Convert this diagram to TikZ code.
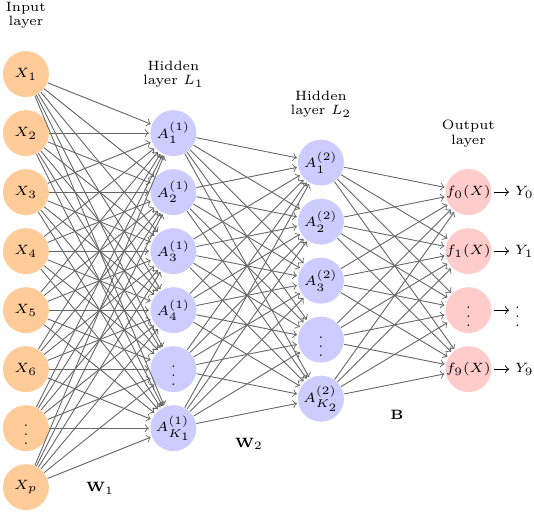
\documentclass[tikz,border=0pt]{standalone}
\usepackage{amsmath}
\usepackage{amssymb}
\usetikzlibrary{positioning}

\begin{document}
\begin{tikzpicture}[
    font=\fontsize{6}{6.3}\selectfont,
    node distance=26.2pt and 65.5pt, on grid,
    neuron/.style={circle, minimum size=20.4pt, inner sep=0pt},
    inputneuron/.style={neuron, fill=orange!40},
    hiddenneuron/.style={neuron, fill=blue!20},
    outputneuron/.style={neuron, fill=red!20, inner sep=-2pt},
    synapse/.style={->, black!60, shorten >=0.5pt},
    layerlabel/.style={align=center},
    outlabel/.style={anchor=west, inner sep=0.5pt}
  ]
  \useasboundingbox (0,0) rectangle (237.1pt,-226.9pt);
  % x1--x8 are the input units
  \node[inputneuron] (x1) at (11.5pt,-32.9pt) {$X_1$};
  \node[inputneuron, below=of x1] (x2) {$X_2$};
  \node[inputneuron, below=of x2] (x3) {$X_3$};
  \node[inputneuron, below=of x3] (x4) {$X_4$};
  \node[inputneuron, below=of x4] (x5) {$X_5$};
  \node[inputneuron, below=of x5] (x6) {$X_6$};
  \node[inputneuron, below=of x6] (x7) {$\vdots$};
  \node[inputneuron, below=of x7] (x8) {$X_p$};
  % a1--a6 are the units of the first hidden layer
  \node[hiddenneuron, right=of x2] (a1) {$A_1^{(1)}$};
  \node[hiddenneuron, below=of a1] (a2) {$A_2^{(1)}$};
  \node[hiddenneuron, below=of a2] (a3) {$A_3^{(1)}$};
  \node[hiddenneuron, below=of a3] (a4) {$A_4^{(1)}$};
  \node[hiddenneuron, below=of a4] (a5) {$\vdots$};
  \node[hiddenneuron, below=of a5] (a6) {$A_{K_1}^{(1)}$};
  % b1--b5 are the units of the second hidden layer, half a step lower
  \node[hiddenneuron, below right=13.1pt and 65.5pt of a1] (b1) {$A_1^{(2)}$};
  \node[hiddenneuron, below=of b1] (b2) {$A_2^{(2)}$};
  \node[hiddenneuron, below=of b2] (b3) {$A_3^{(2)}$};
  \node[hiddenneuron, below=of b3] (b4) {$\vdots$};
  \node[hiddenneuron, below=of b4] (b5) {$A_{K_2}^{(2)}$};
  % f1--f4 are the output units, y1--y4 what they give
  \node[outputneuron, below right=13.1pt and 65.5pt of b1] (f1) {$f_0(X)$};
  \node[outputneuron, below=of f1] (f2) {$f_1(X)$};
  \node[outputneuron, below=of f2] (f3) {$\vdots$};
  \node[outputneuron, below=of f3] (f4) {$f_9(X)$};
  \node[right=20pt of f1, outlabel] (y1) {$Y_0$};
  \node[right=20pt of f2, outlabel] (y2) {$Y_1$};
  \node[right=20pt of f3, outlabel] (y3) {$\vdots$};
  \node[right=20pt of f4, outlabel] (y4) {$Y_9$};
  % layer names above the first unit of each layer
  \node[layerlabel, above=26pt of x1] (l0) {Input\\layer};
  \node[layerlabel, above=26pt of a1] (l1) {Hidden\\layer $L_1$};
  \node[layerlabel, above=26pt of b1] (l2) {Hidden\\layer $L_2$};
  \node[layerlabel, above=26pt of f1] (l3) {Output\\layer};
  % weight matrices
  \node (w1) at (44.4pt,-216.7pt) {$\mathbf{W}_1$};
  \node (w2) at (110.6pt,-197.1pt) {$\mathbf{W}_2$};
  \node (bb) at (176.3pt,-184.3pt) {$\mathbf{B}$};
  % every unit feeds every unit of the next layer
  \foreach \i in {1,...,8}
    \foreach \j in {1,...,6}
      \draw[synapse] (x\i) -- (a\j);
  \foreach \i in {1,...,6}
    \foreach \j in {1,...,5}
      \draw[synapse] (a\i) -- (b\j);
  \foreach \i in {1,...,5}
    \foreach \j in {1,...,4}
      \draw[synapse] (b\i) -- (f\j);
  \foreach \i in {1,...,4}
    \draw[->, shorten <=1pt, shorten >=2pt] (f\i) -- (y\i);
\end{tikzpicture}
\end{document}
